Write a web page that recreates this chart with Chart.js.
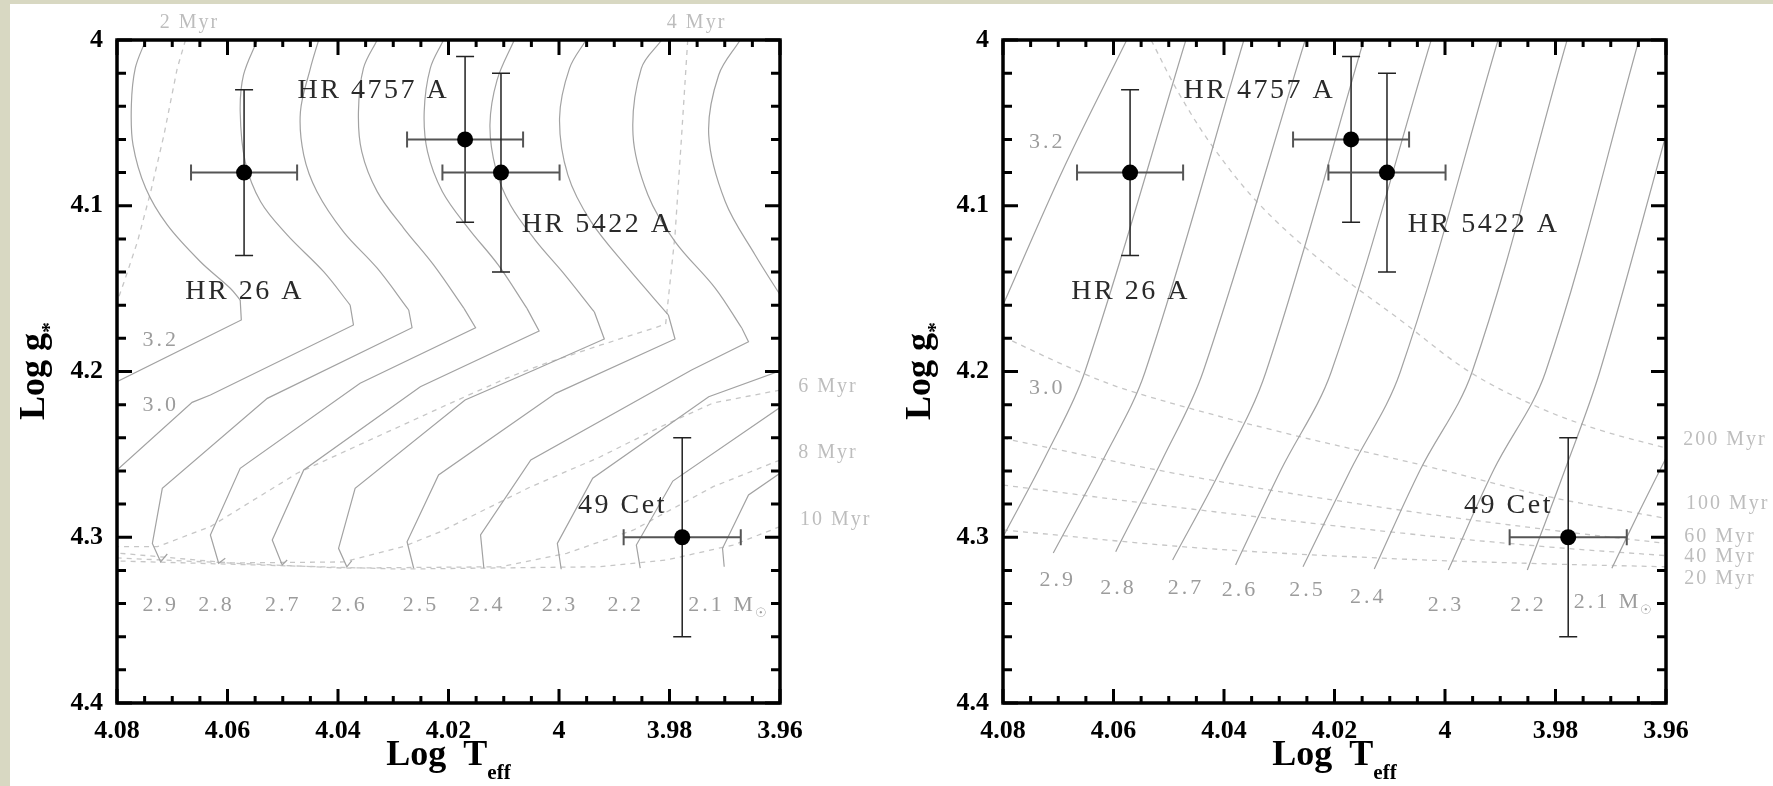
<!DOCTYPE html>
<html>
<head>
<meta charset="utf-8">
<script src="https://cdn.jsdelivr.net/npm/chart.js@4.4.1/dist/chart.umd.min.js"></script>
<style>
    body { margin: 0; width: 1773px; height: 786px; background: #d8d8c2; overflow: hidden; position: relative; }
    #sheet { position: absolute; left: 10px; top: 4px; right: 0; bottom: 0; background: #fff; }
    .panel { position: absolute; top: 0; }
</style>
</head>
<body>
<div id="sheet"></div>
<canvas id="leftChart" class="panel" style="left:0px" width="890" height="786"></canvas>
<canvas id="rightChart" class="panel" style="left:890px" width="883" height="786"></canvas>
<script>
    "use strict";

    // ---- Ejes ----
    const xTicks = [4.08, 4.06, 4.04, 4.02, 4.00, 3.98, 3.96];
    const yTicks = [4.0, 4.1, 4.2, 4.3, 4.4];

    // ---- Estrellas (log Teff, log g, errores) ----
    const starNames = ['HR 26 A', 'HR 4757 A', 'HR 5422 A', '49 Cet'];
    const starLogT = [4.057, 4.017, 4.0105, 3.9777];
    const starLogG = [4.08, 4.06, 4.08, 4.30];
    const starErrT = [0.0096, 0.0105, 0.0106, 0.0106];
    const starErrG = [0.05, 0.05, 0.06, 0.06];

    const massNames = ['3.2', '3.0', '2.9', '2.8', '2.7', '2.6', '2.5', '2.4', '2.3', '2.2', '2.1 M'];

    // ---- Panel izquierdo: trazas evolutivas [log Teff, log g] ----
    const L32up = [[4.0748,4.000],[4.0767,4.0171],[4.0774,4.0392],[4.0771,4.0633],[4.0748,4.0895],[4.0709,4.1116],[4.0649,4.1338],[4.0595,4.1498],[4.0577,4.1569]];
    const L32lo = [[4.0577,4.1569],[4.0575,4.1689],[4.0800,4.2062]];
    const L30up = [[4.0546,4.000],[4.0571,4.0211],[4.0577,4.0433],[4.0568,4.0734],[4.0540,4.0976],[4.0492,4.1176],[4.0426,4.1398],[4.0378,4.1599]];
    const L30lo = [[4.0378,4.1599],[4.0372,4.1719],[4.0631,4.2142],[4.0664,4.2186],[4.0800,4.2594]];
    const L29up = [[4.0435,4.000],[4.0450,4.0171],[4.0468,4.0433],[4.0462,4.0694],[4.0438,4.0915],[4.0390,4.1157],[4.0329,4.1377],[4.0272,4.1629]];
    const L29lo = [[4.0272,4.1629],[4.0266,4.1736],[4.0528,4.2162],[4.0718,4.2705],[4.0736,4.3037],[4.0721,4.3148],[4.0709,4.3101]];
    const L28up = [[4.0329,4.000],[4.0354,4.0171],[4.0363,4.0433],[4.0357,4.0674],[4.0329,4.0915],[4.0281,4.1136],[4.0227,4.1357],[4.0172,4.1619]];
    const L28lo = [[4.0172,4.1619],[4.0151,4.1736],[4.0360,4.2071],[4.0577,4.2584],[4.0631,4.2986],[4.0616,4.3157],[4.0604,4.3127]];
    const L27up = [[4.0209,4.000],[4.0233,4.0171],[4.0244,4.0433],[4.0238,4.0674],[4.0211,4.0915],[4.0164,4.1136],[4.0110,4.1357],[4.0058,4.1619]];
    const L27lo = [[4.0058,4.1619],[4.0036,4.1756],[4.0251,4.2092],[4.0462,4.2594],[4.0519,4.3017],[4.0501,4.3167],[4.0492,4.3137]];
    const L26up = [[4.0081,4.000],[4.0112,4.0241],[4.0125,4.0513],[4.0114,4.0784],[4.0088,4.0995],[4.0043,4.1207],[3.9989,4.1418],[3.9936,4.1641]];
    const L26lo = [[3.9936,4.1641],[3.9918,4.1804],[4.0045,4.1991],[4.0170,4.2172],[4.0369,4.2705],[4.0399,4.3067],[4.0384,4.3178],[4.0375,4.3141]];
    const L25up = [[3.9951,4.000],[3.9981,4.0171],[3.9999,4.0472],[3.9984,4.0814],[3.9942,4.1096],[3.9875,4.1377],[3.9802,4.1659]];
    const L25lo = [[3.9802,4.1659],[3.9790,4.1804],[4.0006,4.2132],[4.0218,4.2624],[4.0275,4.3027],[4.0263,4.3187]];
    const L24up = [[3.9814,4.000],[3.9851,4.0171],[3.9866,4.0573],[3.9839,4.0935],[3.9790,4.1216],[3.9717,4.1498],[3.9669,4.1739]];
    const L24lo = [[3.9669,4.1739],[3.9657,4.1820],[3.9760,4.1991],[4.0051,4.2534],[4.0142,4.2986],[4.0136,4.3187]];
    const L23up = [[3.9672,4.000],[3.9711,4.0211],[3.9729,4.0573],[3.9699,4.0976],[3.9645,4.1297],[3.9596,4.1558]];
    const L23lo = [[3.9596,4.1991],[3.9729,4.2152],[3.9939,4.2644],[4.0003,4.3037],[3.9996,4.3193]];
    const L22lo = [[3.9596,4.2208],[3.9794,4.2661],[3.9860,4.3047],[3.9853,4.3186]];
    const L21lo = [[3.9596,4.2605],[3.9657,4.2745],[3.9704,4.3067],[3.9701,4.3178]];

    // ---- Panel izquierdo: isocronas ----
    const Liso2 = [[4.0676,4.000],[4.0691,4.0171],[4.0715,4.0573],[4.0739,4.0915],[4.0763,4.1217],[4.0788,4.1468],[4.0800,4.1581]];
    const Liso4 = [[3.9767,4.000],[3.9778,4.0573],[3.9790,4.1176],[3.9807,4.1715],[3.9924,4.1840],[4.0033,4.1961],[4.0094,4.2039],[4.0197,4.2192],[4.0474,4.2614],[4.0631,4.2936],[4.0727,4.3057],[4.0800,4.3057]];
    const Liso6 = [[3.9600,4.2112],[3.9721,4.2190],[3.9817,4.2335],[3.9926,4.2516],[4.0052,4.2697],[4.0215,4.2967],[4.0282,4.3057],[4.0390,4.3149],[4.0595,4.3155],[4.0800,4.3095]];
    const Liso8 = [[3.9600,4.2534],[3.9721,4.2695],[3.9865,4.2956],[3.9986,4.3097],[4.0106,4.3178],[4.0390,4.3186],[4.0800,4.3125]];
    const Liso10 = [[3.9600,4.2936],[3.9685,4.3047],[3.9805,4.3137],[3.9926,4.3178],[4.0287,4.3192],[4.0800,4.3143]];
    const leftAges = ['2 Myr', '4 Myr', '6 Myr', '8 Myr', '10 Myr'];

    // ---- Panel derecho: trazas ----
    const R32 = [[4.0576,4.000],[4.0690,4.0772],[4.0800,4.1599]];
    const R30 = [[4.0469,4.000],[4.0652,4.2003],[4.0720,4.2492],[4.0800,4.2998]];
    const R29 = [[4.0364,4.000],[4.0543,4.2003],[4.0619,4.2534],[4.0709,4.3095]];
    const R28 = [[4.0253,4.000],[4.0438,4.2003],[4.0512,4.2534],[4.0596,4.3087]];
    const R27 = [[4.0147,4.000],[4.0324,4.2003],[4.0406,4.2594],[4.0493,4.3137]];
    const R26 = [[4.0025,4.000],[4.0206,4.2003],[4.0297,4.2594],[4.0379,4.3167]];
    const R25 = [[3.9904,4.000],[4.0081,4.2003],[4.0171,4.2594],[4.0257,4.3178]];
    const R24 = [[3.9779,4.000],[3.9951,4.2003],[4.0045,4.2594],[4.0128,4.3192]];
    const R23 = [[3.9649,4.000],[3.9818,4.2003],[3.9912,4.2594],[3.9994,4.3198]];
    const R22 = [[3.9600,4.0573],[3.9720,4.2003],[3.9783,4.2594],[3.9851,4.3198]];
    const R21 = [[3.9600,4.2522],[3.9647,4.2836],[3.9698,4.3187]];

    // ---- Panel derecho: isocronas ----
    const Riso200 = [[4.0532,4.000],[4.0480,4.0332],[4.0416,4.0664],[4.0335,4.0995],[4.0226,4.1327],[4.0081,4.1689],[3.9955,4.2003],[3.9828,4.2220],[3.9720,4.2353],[3.9600,4.2462]];
    const Riso100 = [[4.0800,4.1790],[4.0657,4.2009],[4.0556,4.2132],[4.0312,4.2353],[4.0030,4.2574],[3.9810,4.2757],[3.9600,4.2886]];
    const Riso60 = [[4.0800,4.2403],[4.0443,4.2643],[4.0081,4.2836],[3.9810,4.2956],[3.9600,4.3037]];
    const Riso40 = [[4.0800,4.2685],[4.0443,4.2836],[4.0081,4.2974],[3.9810,4.3059],[3.9600,4.3111]];
    const Riso20 = [[4.0800,4.2956],[4.0443,4.3065],[4.0081,4.3131],[3.9810,4.3161],[3.9600,4.3178]];
    const rightAges = ['200 Myr', '100 Myr', '60 Myr', '40 Myr', '20 Myr'];

    // ---- Donde van las etiquetas (en unidades de los ejes) ----
    const starLabelAt = [[4.0569,4.152],[4.0336,4.0308],[3.9930,4.1112],[3.9885,4.281]];
    const leftMassAt = [[4.0721,4.181],[4.0721,4.2202],[4.0721,4.3409],[4.0620,4.3409],[4.0499,4.3409],[4.0379,4.3409],[4.0250,4.3409],[4.0130,4.3409],[3.9998,4.3409],[3.9879,4.3409],[3.9766,4.3409]];
    const rightMassAt = [[4.0720,4.0614],[4.0720,4.2101],[4.0701,4.3258],[4.0591,4.3308],[4.0469,4.3308],[4.0371,4.3322],[4.0249,4.3322],[4.0139,4.3359],[3.9998,4.3409],[3.9849,4.3409],[3.9767,4.3389]];
    const leftAgeAt = [[4.0669,3.9896],[3.9751,3.9896],[3.9567,4.2094],[3.9567,4.2492],[3.9564,4.2896]];
    const leftAgeAlign = ['center', 'center', 'left', 'left', 'left'];
    const rightAgeAt = [[3.9569,4.2413],[3.9564,4.2795],[3.9567,4.2997],[3.9567,4.3117],[3.9567,4.3248]];
    const rightAgeAlign = ['left', 'left', 'left', 'left', 'left'];

    // Estilos
    const trackColor = '#a2a2a2';
    const isoColor = '#c6c6c6';
    const serif = '"Liberation Serif", "DejaVu Serif", serif';

    // Línea a partir de una lista de puntos
    function curve(points, dashed, tension) {
        return {
            data: points.map(function (p) { return {x: p[0], y: p[1]}; }),
            showLine: true,
            pointRadius: 0,
            borderColor: dashed ? isoColor : trackColor,
            borderWidth: dashed ? 1.3 : 1.2,
            borderDash: dashed ? [5, 5] : [],
            tension: tension,
            fill: false
        };
    }

    function starDataset() {
        return {
            data: starLogT.map(function (t, i) { return {x: t, y: starLogG[i]}; }),
            pointRadius: 8,
            pointBackgroundColor: '#000',
            pointBorderWidth: 0,
            showLine: false
        };
    }

    function label(ctx, txt, x, y, size, color, align, spacing) {
        ctx.save();
        ctx.font = size + 'px ' + serif;
        ctx.fillStyle = color;
        ctx.textAlign = align;
        ctx.textBaseline = 'middle';
        ctx.letterSpacing = spacing + 'px';
        ctx.fillText(txt, x, y);
        ctx.restore();
    }

    // Barras de error, dibujadas justo antes de los puntos
    const errorBars = {
        id: 'errorBars',
        beforeDatasetDraw: function (chart, args) {
            if (args.index !== 0) return;
            const ctx = chart.ctx, xs = chart.scales.x, ys = chart.scales.y;
            ctx.save();
            for (let i = 0; i < starLogT.length; i++) {
                const x = xs.getPixelForValue(starLogT[i]);
                const y = ys.getPixelForValue(starLogG[i]);
                const xa = xs.getPixelForValue(starLogT[i] + starErrT[i]);
                const xb = xs.getPixelForValue(starLogT[i] - starErrT[i]);
                const ya = ys.getPixelForValue(starLogG[i] - starErrG[i]);
                const yb = ys.getPixelForValue(starLogG[i] + starErrG[i]);
                ctx.strokeStyle = '#222';
                ctx.lineWidth = 1.5;
                ctx.beginPath();
                ctx.moveTo(x, ya); ctx.lineTo(x, yb);
                ctx.moveTo(x - 9, ya); ctx.lineTo(x + 9, ya);
                ctx.moveTo(x - 9, yb); ctx.lineTo(x + 9, yb);
                ctx.stroke();
                ctx.strokeStyle = '#555';
                ctx.lineWidth = 2;
                ctx.beginPath();
                ctx.moveTo(xa, y); ctx.lineTo(xb, y);
                ctx.moveTo(xa, y - 8); ctx.lineTo(xa, y + 8);
                ctx.moveTo(xb, y - 8); ctx.lineTo(xb, y + 8);
                ctx.stroke();
            }
            ctx.restore();
        }
    };

    // Marco, marcas hacia dentro y títulos de ejes
    const frame = {
        id: 'frame',
        afterDatasetsDraw: function (chart) {
            const ctx = chart.ctx, a = chart.chartArea, xs = chart.scales.x, ys = chart.scales.y;
            ctx.save();
            ctx.strokeStyle = '#000';
            ctx.lineWidth = 3;
            ctx.beginPath();
            // x: mayores cada 0.02, menores cada 0.005
            for (let k = 0; k <= 24; k++) {
                const px = xs.getPixelForValue(3.96 + k * 0.005);
                const big = k % 4 === 0;
                ctx.moveTo(px, a.bottom); ctx.lineTo(px, a.bottom - (big ? 14 : 7));
                ctx.moveTo(px, a.top); ctx.lineTo(px, a.top + (big ? 15 : 7));
            }
            // y: mayores cada 0.1, menores cada 0.02
            for (let k = 0; k <= 20; k++) {
                const py = ys.getPixelForValue(4.0 + k * 0.02);
                const big = k % 5 === 0;
                ctx.moveTo(a.left, py); ctx.lineTo(a.left + (big ? 15 : 9), py);
                ctx.moveTo(a.right, py); ctx.lineTo(a.right - (big ? 15 : 9), py);
            }
            ctx.stroke();
            ctx.lineWidth = 3.5;
            ctx.strokeRect(a.left, a.top, a.right - a.left, a.bottom - a.top);

            // Título x: Log T_eff
            ctx.fillStyle = '#000';
            ctx.textBaseline = 'alphabetic';
            ctx.textAlign = 'left';
            ctx.font = 'bold 36px ' + serif;
            const wLog = ctx.measureText('Log').width;
            const wT = ctx.measureText('T').width;
            ctx.font = 'bold 21px ' + serif;
            const wEff = ctx.measureText('eff').width;
            const total = wLog + 17 + wT + wEff;
            let x0 = (a.left + a.right) / 2 - total / 2;
            const yb = a.bottom + 62;
            ctx.font = 'bold 36px ' + serif;
            ctx.fillText('Log', x0, yb);
            ctx.fillText('T', x0 + wLog + 17, yb);
            ctx.font = 'bold 21px ' + serif;
            ctx.fillText('eff', x0 + wLog + 17 + wT, yb + 14);

            // Título y: Log g*
            ctx.translate(a.left - 73, (a.top + a.bottom) / 2);
            ctx.rotate(-Math.PI / 2);
            ctx.font = 'bold 36px ' + serif;
            const wG = ctx.measureText('Log g').width;
            ctx.fillText('Log g', -(wG + 10) / 2, 0);
            ctx.font = 'bold 22px ' + serif;
            ctx.fillText('*', -(wG + 10) / 2 + wG, 12);
            ctx.restore();
        }
    };

    // Etiquetas de texto del panel
    function labelsPlugin(massAt, ages, ageAt, ageAlign) {
        return {
            id: 'labels',
            afterDatasetsDraw: function (chart) {
                const ctx = chart.ctx, xs = chart.scales.x, ys = chart.scales.y;
                for (let i = 0; i < starNames.length; i++) {
                    label(ctx, starNames[i], xs.getPixelForValue(starLabelAt[i][0]), ys.getPixelForValue(starLabelAt[i][1]), 28, '#2a2a2a', 'center', 2.5);
                }
                for (let i = 0; i < massNames.length; i++) {
                    const px = xs.getPixelForValue(massAt[i][0]), py = ys.getPixelForValue(massAt[i][1]);
                    if (i === massNames.length - 1) {
                        label(ctx, massNames[i], px, py, 22, '#9c9c9c', 'left', 3);
                        ctx.save();
                        ctx.font = '22px ' + serif;
                        ctx.letterSpacing = '3px';
                        const w = ctx.measureText(massNames[i]).width;
                        ctx.restore();
                        label(ctx, '\u2609', px + w - 1, py + 9, 13, '#9c9c9c', 'left', 0);
                    } else {
                        label(ctx, massNames[i], px, py, 22, '#9c9c9c', 'center', 3);
                    }
                }
                for (let i = 0; i < ages.length; i++) {
                    label(ctx, ages[i], xs.getPixelForValue(ageAt[i][0]), ys.getPixelForValue(ageAt[i][1]), 20, '#bdbdbd', ageAlign[i], 2);
                }
            }
        };
    }

    function tickText(v, d) {
        return parseFloat(v.toFixed(d)).toString();
    }

    function makeChart(id, yWidth, padRight, datasets, labels) {
        return new Chart(document.getElementById(id), {
            type: 'scatter',
            data: {datasets: datasets},
            options: {
                responsive: false,
                animation: false,
                layout: {padding: {left: 0, top: 40, right: padRight, bottom: 0}},
                plugins: {legend: {display: false}, tooltip: {enabled: false}},
                scales: {
                    x: {
                        type: 'linear', min: 3.96, max: 4.08, reverse: true,
                        grid: {display: false, drawTicks: false},
                        border: {display: false},
                        afterBuildTicks: function (s) { s.ticks = xTicks.map(function (v) { return {value: v}; }); },
                        afterFit: function (s) { s.height = 83; },
                        ticks: {
                            padding: 13, autoSkip: false, maxRotation: 0, color: '#000',
                            font: {family: serif, weight: 'bold', size: 26},
                            callback: function (v) { return tickText(v, 2); }
                        }
                    },
                    y: {
                        type: 'linear', min: 4.0, max: 4.4, reverse: true,
                        grid: {display: false, drawTicks: false},
                        border: {display: false},
                        afterBuildTicks: function (s) { s.ticks = yTicks.map(function (v) { return {value: v}; }); },
                        afterFit: function (s) { s.width = yWidth; },
                        ticks: {
                            padding: 14, color: '#000',
                            font: {family: serif, weight: 'bold', size: 26},
                            callback: function (v) { return tickText(v, 1); }
                        }
                    }
                }
            },
            plugins: [errorBars, frame, labels]
        });
    }

    // Panel izquierdo: trazas pre-secuencia principal
    const leftSets = [starDataset()];
    [L32up, L30up, L29up, L28up, L27up, L26up, L25up, L24up, L23up].forEach(function (c) { leftSets.push(curve(c, false, 0.35)); });
    [L32lo, L30lo, L29lo, L28lo, L27lo, L26lo, L25lo, L24lo, L23lo, L22lo, L21lo].forEach(function (c) { leftSets.push(curve(c, false, 0)); });
    [Liso2, Liso4, Liso6, Liso8, Liso10].forEach(function (c) { leftSets.push(curve(c, true, 0)); });

    // Panel derecho: trazas post-secuencia principal
    const rightSets = [starDataset()];
    [R32, R30, R29, R28, R27, R26, R25, R24, R23, R22, R21].forEach(function (c) { rightSets.push(curve(c, false, 0.35)); });
    [Riso200, Riso100, Riso60, Riso40, Riso20].forEach(function (c) { rightSets.push(curve(c, true, 0.35)); });

    makeChart('leftChart', 117, 110, leftSets, labelsPlugin(leftMassAt, leftAges, leftAgeAt, leftAgeAlign));
    makeChart('rightChart', 113, 107, rightSets, labelsPlugin(rightMassAt, rightAges, rightAgeAt, rightAgeAlign));
</script>
</body>
</html>
